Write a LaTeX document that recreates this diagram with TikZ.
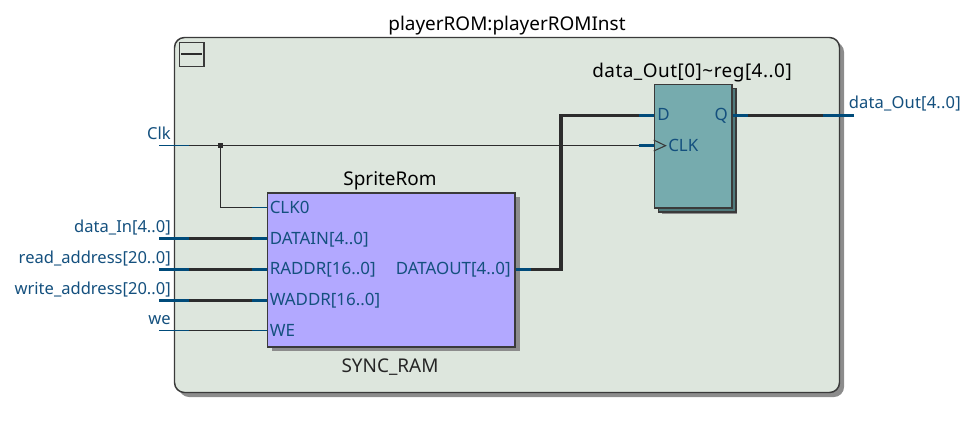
\documentclass[tikz,border=0pt]{standalone}
\usepackage{fontspec}
\setmainfont{Noto Sans}
\usetikzlibrary{calc}
\definecolor{panel}{HTML}{DDE6DD}
\definecolor{edge}{HTML}{3A3A3A}
\definecolor{shade}{HTML}{8C8C8C}
\definecolor{ram}{HTML}{B2A8FF}
\definecolor{ffa}{HTML}{76ABAE}
\definecolor{ffb}{HTML}{4F7A7C}
\definecolor{pin}{HTML}{004B7A}
\definecolor{lbl}{HTML}{14507E}
\definecolor{wire}{HTML}{2C2C2C}
\tikzset{
  x=0.75pt,y=-0.75pt,
  panelbox/.style={draw=edge,line width=1.1pt,fill=panel,rounded corners=7.5pt},
  shadowbox/.style={draw=none,fill=shade},
  rambox/.style={draw=edge,line width=1.1pt,fill=ram},
  ffbox/.style={draw=edge,line width=1.1pt,fill=ffa},
  ffback/.style={draw=edge,line width=1.1pt,fill=ffb},
  title/.style={font=\fontsize{14.2}{16}\selectfont,text=black,inner sep=0pt},
  pinlabel/.style={font=\fontsize{12.4}{15}\selectfont,text=lbl,inner sep=0pt},
  innerlabel/.style={font=\fontsize{12.7}{15}\selectfont,text=lbl,inner sep=0pt},
  thin wire/.style={draw=wire,line width=0.8pt},
  thick wire/.style={draw=wire,line width=2.4pt},
  thin pin/.style={draw=pin,line width=0.8pt},
  thick pin/.style={draw=pin,line width=2.4pt},
}
\begin{document}
\begin{tikzpicture}
\useasboundingbox (0,0) rectangle (973,432);
% outer panel
\fill[shadowbox,rounded corners=7.5pt] (179,42) rectangle (844,397);
\path[panelbox] (174.5,37.5) rectangle (839.5,392.5);
\node[title,anchor=base] (maintitle) at (507,31) {playerROM:playerROMInst};
% collapse button
\node[draw=edge,line width=1.1pt,minimum width=18.4pt,minimum height=18pt,inner sep=0pt,anchor=north west] (btn) at (178.7,42) {};
\draw[draw=wire,line width=2pt] (181,54) -- (202,54);
% RAM
\fill[shadowbox] (272,197) rectangle (519.5,351);
\node[rambox,anchor=north west,minimum width=185.5pt,minimum height=115.5pt,inner sep=0pt] (rom) at (266.7,192.2) {};
\node[title,anchor=base] (romtitle) at (390,185) {SpriteRom};
\node[title,anchor=base,text=black!85] (romtype) at (390,372) {SYNC\_RAM};
% FF
\fill[shadowbox] (662,92) rectangle (737,214);
\node[ffback,anchor=north west,minimum width=58pt,minimum height=92.5pt,inner sep=0pt] (ffb) at (657.7,87.7) {};
\node[ffbox,anchor=north west,minimum width=58pt,minimum height=92.5pt,inner sep=0pt] (ff) at (653.7,83.7) {};
\node[title,anchor=base] (fftitle) at (692,77) {\addfontfeature{LetterSpace=2.6}data\_Out[0]\textasciitilde reg[4..0]};
% coordinates
\coordinate (iClk) at (159,145.7);
\coordinate (iDat) at (159,238.8);
\coordinate (iRd) at (159,269.3);
\coordinate (iWr) at (159,300.2);
\coordinate (iWe) at (159,330.7);
\coordinate (pClk0) at (rom.west |- 0,207.5);
\coordinate (pDat) at (rom.west |- 0,238.8);
\coordinate (pRd) at (rom.west |- 0,269.3);
\coordinate (pWr) at (rom.west |- 0,300.2);
\coordinate (pWe) at (rom.west |- 0,330.7);
\coordinate (pOut) at (rom.east |- 0,269.3);
\coordinate (pD) at (ff.west |- 0,115.3);
\coordinate (pC) at (ff.west |- 0,145.7);
\coordinate (pQ) at (ff.east |- 0,115.3);
\coordinate (oQ) at (854,115.3);
\coordinate (bendA) at (561,269.3);
\coordinate (bendB) at (561,115.3);
\node[fill=wire,minimum size=3.6pt,inner sep=0pt] (junction) at (220.5,145.7) {};
% thin wires
\draw[thin wire] (iClk) -- (pC);
\draw[thin wire] (junction) |- (pClk0);
\draw[thin wire] (iWe) -- (pWe);
% thick wires
\draw[thick wire] (iDat) -- (pDat);
\draw[thick wire] (iRd) -- (pRd);
\draw[thick wire] (iWr) -- (pWr);
\draw[thick wire,line join=miter] (pOut) -- (bendA) -- (bendB) -- (pD);
\draw[thick wire] (pQ) -- (oQ);
% pin stubs
\foreach \c in {iClk,iWe}{\draw[thin pin] (\c) -- ++(30,0);}
\foreach \c in {iDat,iRd,iWr}{\draw[thick pin] (\c) -- ++(30,0);}
\foreach \c in {pClk0,pWe}{\draw[thin pin] (\c) -- ++(-15,0);}
\foreach \c in {pDat,pRd,pWr,pD,pC}{\draw[thick pin] (\c) -- ++(-15,0);}
\foreach \c in {pOut,pQ}{\draw[thick pin] (\c) -- ++(15,0);}
\draw[thick pin] (oQ) -- ++(-31,0);
% clock triangle
\draw[draw=edge,line width=0.8pt] (ff.west |- 0,140) -- (665.5,145.7) -- (ff.west |- 0,151);
% outer labels
\node[pinlabel,anchor=base east] (lClk) at (171,139) {Clk};
\node[pinlabel,anchor=base east] (lDat) at (171,232) {data\_In[4..0]};
\node[pinlabel,anchor=base east] (lRd) at (171,263) {read\_address[20..0]};
\node[pinlabel,anchor=base east] (lWr) at (171,294) {write\_address[20..0]};
\node[pinlabel,anchor=base east] (lWe) at (171,324) {we};
\node[pinlabel,anchor=base west] (lOut) at (848.5,108) {\addfontfeature{LetterSpace=1}data\_Out[4..0]};
% pin labels
\node[innerlabel,anchor=base west] (tClk0) at (269.5,213) {CLK0};
\node[innerlabel,anchor=base west] (tDat) at (269.5,244) {DATAIN[4..0]};
\node[innerlabel,anchor=base west] (tRd) at (269.5,274.5) {RADDR[16..0]};
\node[innerlabel,anchor=base west] (tWr) at (269.5,305.5) {WADDR[16..0]};
\node[innerlabel,anchor=base west] (tWe) at (269.5,336) {WE};
\node[innerlabel,anchor=base east] (tOut) at (511,274.5) {DATAOUT[4..0]};
\node[innerlabel,anchor=base west] (tD) at (657,120.5) {D};
\node[innerlabel,anchor=base west] (tC) at (668,151) {CLK};
\node[innerlabel,anchor=base east] (tQ) at (728,120.5) {Q};
\end{tikzpicture}
\end{document}
